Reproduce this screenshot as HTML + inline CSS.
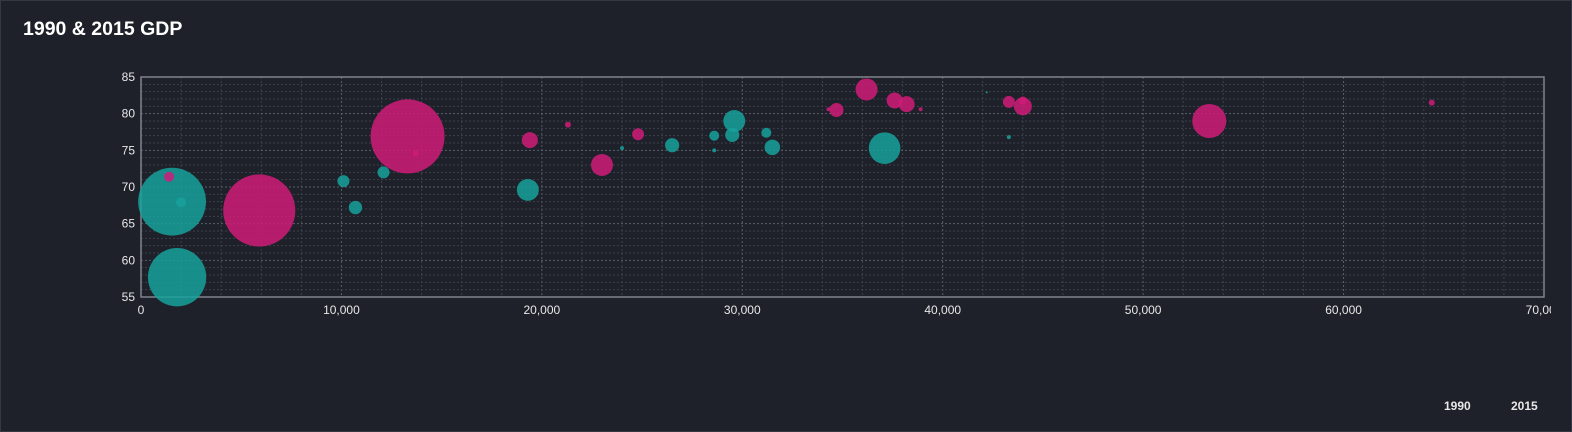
<!DOCTYPE html>
<html><head><meta charset="utf-8"><style>
html,body{margin:0;padding:0;background:#1e2129;}
#wrap{position:relative;width:1570px;height:430px;border:1px solid #343844;background:#1e2129;font-family:"Liberation Sans",sans-serif;color:#fff;}
#title{position:absolute;left:22px;top:17px;font-size:19.5px;font-weight:bold;}
.leg{position:absolute;top:398px;font-size:12px;font-weight:bold;color:#e8e8e8;}
</style></head><body>
<div id="wrap">
<div id="title">1990 &amp; 2015 GDP</div>
<svg id="chart" width="1550" height="430" style="position:absolute;left:0;top:0"></svg>
<div class="leg" style="left:1443px">1990</div>
<div class="leg" style="left:1510px">2015</div>
</div>
<script>
const xTicks=[0,10000,20000,30000,40000,50000,60000,70000];
const yTicks=[55,60,65,70,75,80,85];
const gdp1990=[1550,1800,2000,10100,10700,12100,19300,24000,26500,28600,28600,29500,29600,31200,31500,37100,43300,42200];
const life1990=[68,57.7,67.9,70.8,67.2,72,69.6,75.3,75.7,77,75,77.1,79,77.4,75.4,75.3,76.8,82.9];
const pop1990=[1150,850,25,36,45,36,120,4,50,25,4,50,120,25,60,250,4,0.3];
const gdp2015=[1400,5900,13300,13700,19400,21300,23000,24800,34700,34300,36200,37600,38200,38900,43300,44000,44000,53300,64400];
const life2015=[71.4,66.8,76.9,74.6,76.4,78.5,73,77.2,80.5,80.6,83.3,81.8,81.3,80.6,81.6,81,81.8,79,81.5];
const pop2015=[25,1300,1370,9,64,9,121,36,49,4,121,64,64,4,36,81,16,290,9];

const NS="http://www.w3.org/2000/svg";
const svg=document.getElementById('chart');
const L=140,R=1543,T=76,B=296;
const xS=v=>L+(v-0)/(70000)*(R-L);
const yS=v=>B-(v-55)/30*(B-T);
const rS=p=>Math.sqrt(p);
function mk(tag,attrs){const e=document.createElementNS(NS,tag);for(const k in attrs)e.setAttribute(k,attrs[k]);svg.appendChild(e);return e;}
for(let v=0;v<=70000;v+=2000){const g=mk('line',{x1:xS(v),x2:xS(v),y1:T,y2:B,stroke:v%10000===0?'#5a5f6c':'#3c414d','stroke-dasharray':'2,2','stroke-width':1});

}
for(let v=55;v<=85;v+=1){const g=mk('line',{x1:L,x2:R,y1:yS(v),y2:yS(v),stroke:v%5===0?'#5a5f6c':'#3c414d','stroke-dasharray':'2,2','stroke-width':1});

}
const frame=mk('rect',{x:L,y:T,width:R-L,height:B-T,fill:'none',stroke:'#80848e','stroke-width':1.5});


xTicks.forEach(v=>{const t=mk('text',{x:xS(v),y:B+17,fill:'#e8e8e8','font-size':12,'text-anchor':'middle','font-family':'Liberation Sans, sans-serif'});t.textContent=v.toLocaleString('en-US');

});
yTicks.forEach(v=>{const t=mk('text',{x:L-6,y:yS(v)+4,fill:'#e8e8e8','font-size':12,'text-anchor':'end','font-family':'Liberation Sans, sans-serif'});t.textContent=v;

});
function series(xs,ys,ps,col,name){xs.forEach((x,i)=>{const c=mk('circle',{cx:xS(x),cy:yS(ys[i]),r:Math.max(1,rS(ps[i])),fill:col,'fill-opacity':0.85});

});}
series(gdp1990,life1990,pop1990,'#17a19c','bubble-1990');
series(gdp2015,life2015,pop2015,'#d01b78','bubble-2015');
</script>
</body></html>
